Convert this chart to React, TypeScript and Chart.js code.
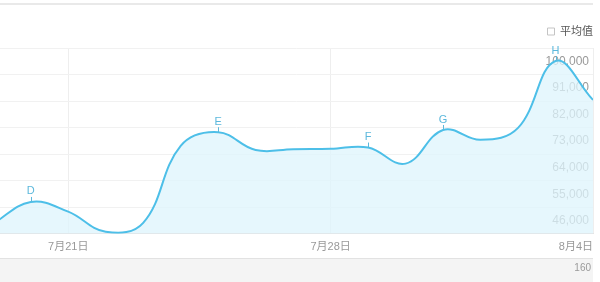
import { useEffect, useRef } from 'react';
import { Chart, registerables } from 'chart.js';

Chart.register(...registerables);

// Daily series, 7月19日 – 8月4日 (day index 0 = 7月21日)
const dayLabels = [
  '7月19日', '7月20日', '7月21日', '7月22日', '7月23日', '7月24日', '7月25日',
  '7月26日', '7月27日', '7月28日', '7月29日', '7月30日', '7月31日',
  '8月1日', '8月2日', '8月3日', '8月4日',
];
const dayIndex = [-2, -1, 0, 1, 2, 3, 4, 5, 6, 7, 8, 9, 10, 11, 12, 13, 14];
const searchIndex = [
  49500, 56800, 53500, 46700, 49700, 75800, 80450,
  74400, 74700, 74800, 75250, 69800, 81200,
  77850, 81900, 104600, 91400,
];

// Event markers placed on the curve
const markerLetters = ['D', 'E', 'F', 'G', 'H'];
const markerDays = ['7月20日', '7月25日', '7月29日', '7月31日', '8月3日'];

// Axis ticks
const xTickValues = [0, 7, 14];
const xTickLabels = ['7月21日', '7月28日', '8月4日'];
const xMin = -1.82;
const xMax = 14;
const yMin = 46000;
const yMax = 109000;
const yStep = 9000;

const averageLabel = '平均值';
const nextPanelLabel = '160';

const FONT = '"Liberation Sans", Arial, "Noto Sans CJK SC", sans-serif';
const LINE = '#4dbfe8';
const FILL = 'rgba(222, 244, 252, 0.75)';
const MARK = '#5cb8dc';

const framePlugin = {
  id: 'frame',
  beforeDraw(chart: any) {
    const { ctx, width, height, chartArea } = chart;
    ctx.save();
    ctx.fillStyle = '#ffffff';
    ctx.fillRect(0, 0, width, height);
    // top rule
    ctx.fillStyle = '#e9e9e9';
    ctx.fillRect(0, 3, chartArea.right, 2);
    // strip of the panel below
    ctx.fillStyle = '#f4f4f4';
    ctx.fillRect(0, 259, chartArea.right, height - 259);
    ctx.fillStyle = '#e2e2e2';
    ctx.fillRect(0, 258, chartArea.right, 1);
    ctx.fillStyle = '#9a9a9a';
    ctx.font = `10px ${FONT}`;
    ctx.textAlign = 'right';
    ctx.textBaseline = 'middle';
    ctx.fillText(nextPanelLabel, chartArea.right - 2, 268);
    ctx.restore();
  },
};

const markerPlugin = {
  id: 'markers',
  afterDatasetsDraw(chart: any) {
    const { ctx } = chart;
    const meta = chart.getDatasetMeta(0);
    ctx.save();
    ctx.font = `11px ${FONT}`;
    ctx.textAlign = 'center';
    ctx.textBaseline = 'middle';
    ctx.fillStyle = MARK;
    ctx.strokeStyle = MARK;
    ctx.lineWidth = 1;
    markerDays.forEach((day, i) => {
      const idx = dayLabels.indexOf(day);
      const pt = meta.data[idx];
      if (!pt) return;
      const x = Math.round(pt.x) + 0.5;
      ctx.beginPath();
      ctx.moveTo(x, pt.y - 5);
      ctx.lineTo(x, pt.y);
      ctx.stroke();
      ctx.fillText(markerLetters[i], pt.x, pt.y - 10.5);
    });
    ctx.restore();
  },
};

// leaves a small gap between the legend row and the plot
const legendGapPlugin = {
  id: 'legendGap',
  afterInit(chart: any) {
    const legend = chart.legend;
    if (!legend) return;
    const fit = legend.fit;
    legend.fit = function () {
      fit.call(this);
      this.height += 1;
    };
  },
};

export default function App() {
  const ref = useRef<HTMLCanvasElement | null>(null);

  useEffect(() => {
    if (!ref.current) return;
    const chart = new Chart(ref.current, {
      type: 'line',
      data: {
        datasets: [
          {
            label: '搜索指数',
            data: dayIndex.map((d, i) => ({ x: d, y: searchIndex[i] })),
            borderColor: LINE,
            borderWidth: 2,
            backgroundColor: FILL,
            fill: 'start',
            tension: 0.4,
            pointRadius: 0,
          },
          {
            label: averageLabel,
            data: [],
            borderColor: '#c4c4c4',
            backgroundColor: '#ffffff',
            borderWidth: 1,
          },
        ],
      },
      options: {
        animation: false,
        responsive: false,
        layout: { padding: { top: 22, right: 3, bottom: 21, left: 0 } },
        plugins: {
          legend: {
            position: 'top',
            align: 'end',
            labels: {
              filter: (item: any) => item.datasetIndex === 1,
              boxWidth: 7,
              boxHeight: 7,
              padding: 4,
              color: '#555555',
              font: { size: 11, family: FONT },
            },
          },
          tooltip: { enabled: false },
        },
        scales: {
          x: {
            type: 'linear',
            min: xMin,
            max: xMax,
            afterBuildTicks: (scale: any) => {
              // an unlabeled lead tick keeps the first date label centred
              scale.ticks = [{ value: xMin + 0.3 }, ...xTickValues.map((v) => ({ value: v }))];
            },
            ticks: {
              autoSkip: false,
              maxRotation: 0,
              align: 'inner',
              padding: 7,
              color: '#999999',
              font: { size: 11, family: FONT },
              callback: (v: any) => {
                const i = xTickValues.indexOf(Number(v));
                return i >= 0 ? xTickLabels[i] : '';
              },
            },
            grid: {
              drawTicks: false,
              color: (c: any) =>
                c.tick && xTickValues.includes(c.tick.value) ? '#eeeeee' : 'rgba(0,0,0,0)',
            },
            border: { color: '#e4e4e4' },
          },
          y: {
            position: 'right',
            min: yMin,
            max: yMax,
            ticks: {
              stepSize: yStep,
              mirror: true,
              padding: -4,
              labelOffset: -13,
              color: '#999999',
              font: { size: 12, family: FONT },
              callback: (v: any) => (Number(v) >= yMax ? '' : Number(v).toLocaleString('en-US')),
            },
            grid: { drawTicks: false, color: '#f1f1f1' },
            border: { display: false },
          },
        },
      },
      plugins: [framePlugin, markerPlugin, legendGapPlugin],
    });
    return () => chart.destroy();
  }, []);

  return (
    <div style={{ position: 'fixed', left: 0, top: 0, width: 600, height: 282, background: '#fff' }}>
      <canvas ref={ref} width={600} height={282} style={{ display: 'block' }} />
    </div>
  );
}
